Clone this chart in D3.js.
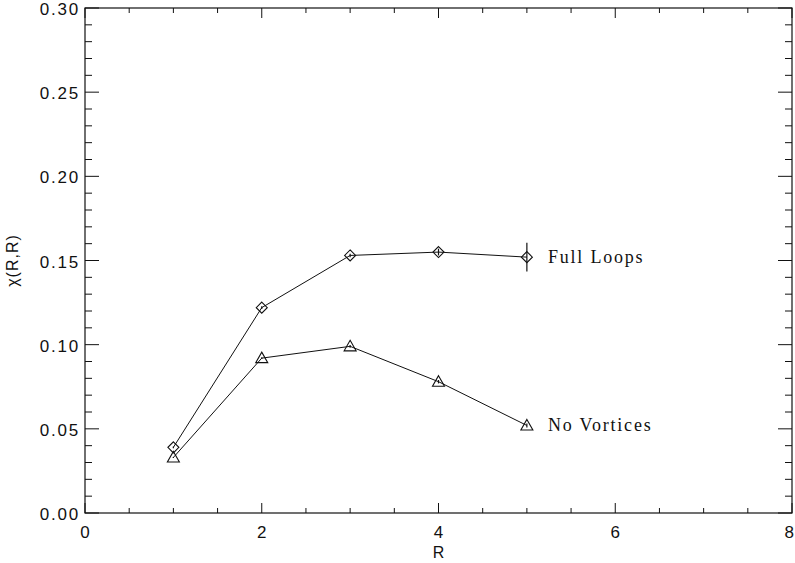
<!DOCTYPE html>
<html>
<head>
<meta charset="utf-8">
<script src="https://cdn.jsdelivr.net/npm/d3@7"></script>
<style>
  html, body { margin: 0; padding: 0; background: #fff; }
  svg { display: block; }
</style>
</head>
<body>
<svg id="chart" width="795" height="563"></svg>
<script>
// Correlation chi(R,R) versus loop size R
const rValues = [1, 2, 3, 4, 5];
const fullLoops = [0.039, 0.122, 0.153, 0.155, 0.152];
const fullLoopsErr = [0.0005, 0.0008, 0.001, 0.002, 0.0086];
const noVortices = [0.033, 0.092, 0.099, 0.078, 0.052];
const noVorticesErr = [0.0003, 0.0005, 0.0008, 0.001, 0.0012];
const seriesNames = ["Full Loops", "No Vortices"];
const xTicks = [0, 2, 4, 6, 8];
const yTicks = [0.00, 0.05, 0.10, 0.15, 0.20, 0.25, 0.30];

const svg = d3.select("#chart");
const plotL = 85, plotR = 792, plotT = 8, plotB = 513;

const x = d3.scaleLinear().domain([0, 8]).range([plotL, plotR]);
const y = d3.scaleLinear().domain([0, 0.30]).range([plotB, plotT]);

const ink = "#111";
const majX = 10, minX = 5, majY = 14, minY = 7;

// frame
svg.append("rect")
  .attr("x", plotL).attr("y", plotT)
  .attr("width", plotR - plotL).attr("height", plotB - plotT)
  .attr("fill", "none").attr("stroke", ink).attr("stroke-width", 1.2);

// ticks on all four sides
const xMinor = d3.range(0, 8.001, 0.5);
const yMinor = d3.range(0, 0.3001, 0.01);
const isMajorX = v => xTicks.some(t => Math.abs(t - v) < 1e-6);
const isMajorY = v => yTicks.some(t => Math.abs(t - v) < 1e-6);

const tg = svg.append("g").attr("stroke", ink).attr("stroke-width", 1);
xMinor.forEach(v => {
  const len = isMajorX(v) ? majX : minX;
  tg.append("line").attr("x1", x(v)).attr("x2", x(v)).attr("y1", plotB).attr("y2", plotB - len);
  tg.append("line").attr("x1", x(v)).attr("x2", x(v)).attr("y1", plotT).attr("y2", plotT + len);
});
yMinor.forEach(v => {
  const len = isMajorY(v) ? majY : minY;
  tg.append("line").attr("y1", y(v)).attr("y2", y(v)).attr("x1", plotL).attr("x2", plotL + len);
  tg.append("line").attr("y1", y(v)).attr("y2", y(v)).attr("x1", plotR).attr("x2", plotR - len);
});

// tick labels (the last x label is kept inside the page edge)
const labelFont = "'Liberation Sans', Arial, sans-serif";
const xMax = xTicks[xTicks.length - 1];
svg.append("g").selectAll("text").data(xTicks).join("text")
  .attr("x", d => d === xMax ? 794 : x(d)).attr("y", plotB + 25)
  .attr("text-anchor", d => d === xMax ? "end" : "middle")
  .attr("font-family", labelFont).attr("font-size", 17).attr("fill", ink)
  .text(d => d3.format("d")(d));
svg.append("g").selectAll("text").data(yTicks).join("text")
  .attr("x", plotL - 5).attr("y", d => y(d) + 7)
  .attr("text-anchor", "end")
  .attr("font-family", labelFont).attr("font-size", 17)
  .attr("letter-spacing", 1.8).attr("fill", ink)
  .text(d => d3.format(".2f")(d));

// axis titles
svg.append("text")
  .attr("x", (plotL + plotR) / 2).attr("y", 558)
  .attr("text-anchor", "middle")
  .attr("font-family", labelFont).attr("font-size", 16).attr("fill", ink)
  .text("R");
svg.append("text")
  .attr("transform", `translate(18,${(plotT + plotB) / 2}) rotate(-90)`)
  .attr("text-anchor", "middle")
  .attr("font-family", labelFont).attr("font-size", 16)
  .attr("letter-spacing", 1).attr("fill", ink)
  .text("χ(R,R)");

const line = d3.line().x(d => x(d[0])).y(d => y(d[1]));

function drawSeries(vals, errs, shape, name) {
  const pts = rValues.map((r, i) => [r, vals[i], errs[i]]);
  const g = svg.append("g");
  g.append("path").datum(pts).attr("d", line)
    .attr("fill", "none").attr("stroke", ink).attr("stroke-width", 1);
  // error bars
  g.selectAll("line.err").data(pts).join("line")
    .attr("x1", d => x(d[0])).attr("x2", d => x(d[0]))
    .attr("y1", d => y(d[1] - d[2])).attr("y2", d => y(d[1] + d[2]))
    .attr("stroke", ink).attr("stroke-width", 1.2);
  // markers
  g.selectAll("path.m").data(pts).join("path")
    .attr("transform", d => `translate(${x(d[0])},${y(d[1])})`)
    .attr("d", shape)
    .attr("fill", "none").attr("stroke", ink).attr("stroke-width", 1.1);
  const last = pts[pts.length - 1];
  g.append("text")
    .attr("x", x(last[0]) + 21).attr("y", y(last[1]) + 6)
    .attr("font-family", "'Liberation Serif', 'DejaVu Serif', serif")
    .attr("font-size", 18).attr("letter-spacing", 1.8).attr("fill", ink)
    .text(name);
}

const diamond = "M0,-5.5L5.5,0L0,5.5L-5.5,0Z";
const triangle = "M0,-6L6,4.5L-6,4.5Z";

drawSeries(fullLoops, fullLoopsErr, diamond, seriesNames[0]);
drawSeries(noVortices, noVorticesErr, triangle, seriesNames[1]);
</script>
</body>
</html>
